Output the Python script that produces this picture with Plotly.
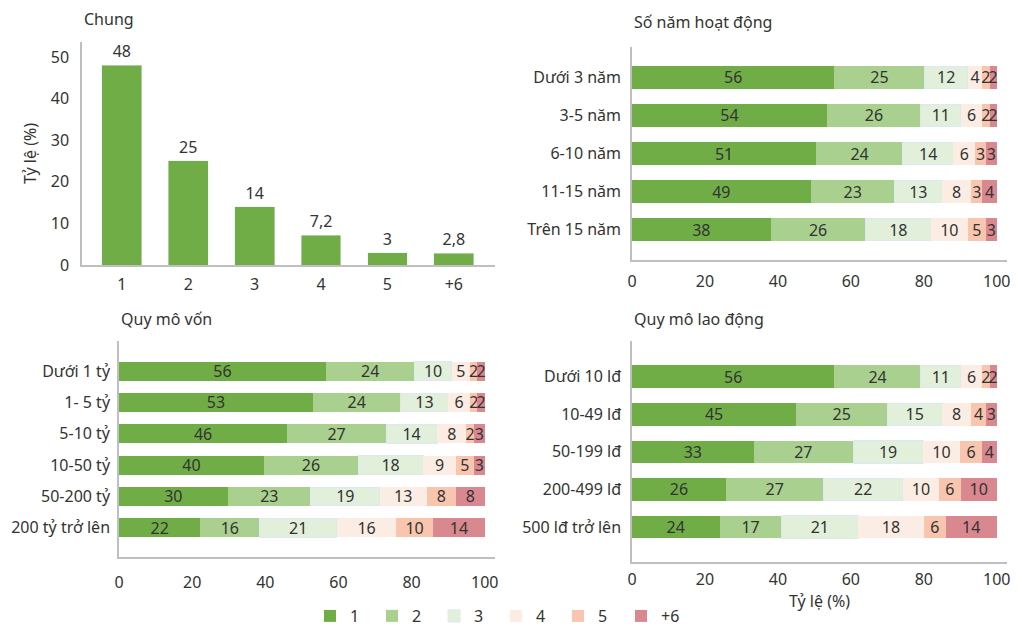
import plotly.graph_objects as go

# ---------------- DATA ----------------
groups = ["1", "2", "3", "4", "5", "+6"]
colors = ["#70AD47", "#A9D08E", "#E2EFDA", "#FCEDE4", "#F8C5AE", "#D98890"]

chung_cats = ["1", "2", "3", "4", "5", "+6"]
chung_vals = [48, 25, 14, 7.2, 3, 2.8]
chung_text = ["48", "25", "14", "7,2", "3", "2,8"]

nam_cats = ["Dưới 3 năm", "3-5 năm", "6-10 năm", "11-15 năm", "Trên 15 năm"]
nam_g1 = [56, 54, 51, 49, 38]
nam_g2 = [25, 26, 24, 23, 26]
nam_g3 = [12, 11, 14, 13, 18]
nam_g4 = [4, 6, 6, 8, 10]
nam_g5 = [2, 2, 3, 3, 5]
nam_g6 = [2, 2, 3, 4, 3]

von_cats = ["Dưới 1 tỷ", "1- 5 tỷ", "5-10 tỷ", "10-50 tỷ", "50-200 tỷ", "200 tỷ trở lên"]
von_g1 = [56, 53, 46, 40, 30, 22]
von_g2 = [24, 24, 27, 26, 23, 16]
von_g3 = [10, 13, 14, 18, 19, 21]
von_g4 = [5, 6, 8, 9, 13, 16]
von_g5 = [2, 2, 2, 5, 8, 10]
von_g6 = [2, 2, 3, 3, 8, 14]

ld_cats = ["Dưới 10 lđ", "10-49 lđ", "50-199 lđ", "200-499 lđ", "500 lđ trở lên"]
ld_g1 = [56, 45, 33, 26, 24]
ld_g2 = [24, 25, 27, 27, 17]
ld_g3 = [11, 15, 19, 22, 21]
ld_g4 = [6, 8, 10, 10, 18]
ld_g5 = [2, 4, 6, 6, 6]
ld_g6 = [2, 3, 4, 10, 14]

x_ticks = [0, 20, 40, 60, 80, 100]
FONT = "Noto Sans"
TXT = "#333333"
AX = "#BFBFBF"
OFF = 8  # page body margin
W, H = 1022 - OFF, 629 - OFF
legend_swatch_x = [330, 392, 454, 516, 578, 641]

fig = go.Figure()

# ---------- top-left: Chung ----------
fig.add_trace(go.Bar(
    x=chung_cats, y=chung_vals, text=chung_text, textposition="outside",
    marker_color=colors[0], cliponaxis=False, showlegend=False,
    textfont=dict(size=16, color=TXT), textangle=0, xaxis="x", yaxis="y",
))


def legend_name(k):
    return "legend" if k == 0 else f"legend{k + 1}"


def add_stack(cats, series, xa, ya, legend):
    n = len(cats)
    totals = [sum(s[i] for s in series) for i in range(n)]
    for k, s in enumerate(series):
        share = [s[i] / totals[i] * 100 for i in range(n)]
        line = dict(color="#DCE9F0", width=1) if k == 2 else dict(width=0)
        fig.add_trace(go.Bar(
            y=cats, x=share, orientation="h", name=groups[k],
            text=[str(v) for v in s], textposition="inside", textangle=0,
            insidetextanchor="middle", constraintext="none",
            textfont=dict(size=16, color=TXT),
            marker=dict(color=colors[k], line=line),
            showlegend=legend, legendgroup=groups[k], legend=legend_name(k),
            xaxis=xa, yaxis=ya, cliponaxis=False,
        ))


add_stack(nam_cats, [nam_g1, nam_g2, nam_g3, nam_g4, nam_g5, nam_g6], "x2", "y2", False)
add_stack(von_cats, [von_g1, von_g2, von_g3, von_g4, von_g5, von_g6], "x3", "y3", False)
add_stack(ld_cats, [ld_g1, ld_g2, ld_g3, ld_g4, ld_g5, ld_g6], "x4", "y4", True)


def px(x):
    return (x - OFF) / W


def py(y):
    return 1 - (y - OFF) / H


def dom_x(a, b):
    return [px(a), px(b)]


def dom_y(top, bottom):
    return [py(bottom), py(top)]


axis_common = dict(showline=True, linecolor=AX, linewidth=1.5, showgrid=False,
                   zeroline=False, ticks="", automargin=False,
                   tickfont=dict(size=16, color=TXT, family=FONT))

fig.update_layout(
    width=W, height=H, margin=dict(l=0, r=0, t=0, b=0, autoexpand=False),
    plot_bgcolor="white", paper_bgcolor="white",
    font=dict(family=FONT, size=16, color=TXT),
    barmode="stack", bargap=0.4,
    uniformtext=dict(minsize=16, mode="show"),
    xaxis=dict(domain=dom_x(82, 495), range=[-0.6, 5.62], anchor="y", **axis_common,
               ticklabelstandoff=4),
    yaxis=dict(domain=dom_y(42, 265), range=[0, 53.6], anchor="x", **axis_common,
               tickvals=[0, 10, 20, 30, 40, 50], ticklabelstandoff=8,
               title=dict(text="Tỷ lệ (%)", font=dict(size=16, color=TXT), standoff=10)),
    xaxis2=dict(domain=dom_x(632, 1007), range=[0, 102.8], anchor="y2", tickvals=x_ticks,
                **axis_common, ticklabelstandoff=6),
    yaxis2=dict(domain=dom_y(47, 260), range=[4.8, -0.8], anchor="x2", **axis_common,
                ticklabelstandoff=6),
    xaxis3=dict(domain=dom_x(119, 495), range=[0, 102.8], anchor="y3", tickvals=x_ticks,
                **axis_common, ticklabelstandoff=10),
    yaxis3=dict(domain=dom_y(341, 557), range=[5.93, -0.96], anchor="x3", **axis_common,
                ticklabelstandoff=4),
    xaxis4=dict(domain=dom_x(632, 1007), range=[0, 102.8], anchor="y4", tickvals=x_ticks,
                **axis_common, ticklabelstandoff=2,
                title=dict(text="Tỷ lệ (%)", font=dict(size=16, color=TXT), standoff=4)),
    yaxis4=dict(domain=dom_y(341, 562), range=[4.93, -0.95], anchor="x4", **axis_common,
                ticklabelstandoff=6),
)

leg_common = dict(orientation="h", xanchor="left", y=py(616), yanchor="middle",
                  itemwidth=30, font=dict(size=16, color=TXT), itemclick=False,
                  bgcolor="rgba(0,0,0,0)")
for k, sx in enumerate(legend_swatch_x):
    fig.update_layout({legend_name(k): dict(x=px(sx - 20), **leg_common)})

titles = [("Chung", 82, 19), ("Số năm hoạt động", 632, 22),
          ("Quy mô vốn", 119, 319), ("Quy mô lao động", 632, 319)]
for t, x, y in titles:
    fig.add_annotation(text=t, x=px(x), y=py(y), xref="paper", yref="paper",
                       xanchor="left", yanchor="middle", showarrow=False,
                       font=dict(size=16, color=TXT, family=FONT))

fig.write_html("out.html")
